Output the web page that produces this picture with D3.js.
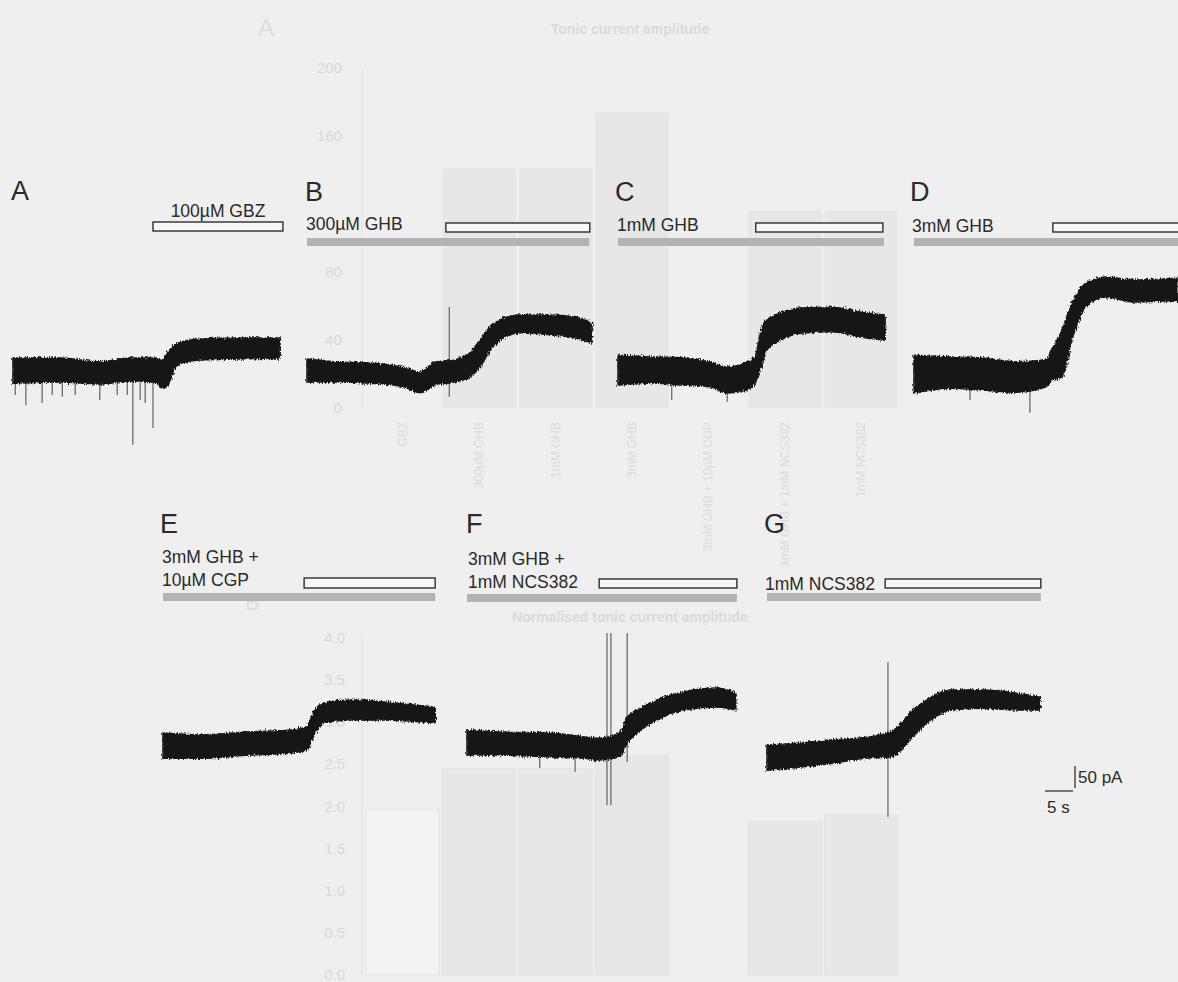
<!DOCTYPE html>
<html>
<head>
<meta charset="utf-8">
<script src="https://cdn.jsdelivr.net/npm/d3@7"></script>
<style>
  html, body { margin: 0; padding: 0; background: #efefef; }
  svg { display: block; font-family: "Liberation Sans", Arial, sans-serif; }
</style>
</head>
<body>
<div id="chart"></div>
<script>
// ---- TRACE DATA (time in s, current in pA relative to baseline) ----
const timeA = [0, 8.4, 15.5, 20.9, 25.4, 26.8, 27.7, 28.9, 30.7, 33.4, 40.5, 47.7];
const upperA = [27, 27, 18, 27, 27, 23, 41, 57, 66, 70, 73, 73];
const lowerA = [-30, -27, -32, -25, -27, -41, -34, 5, 18, 23, 25, 27];
const spikeTimeA = [0.4, 2.3, 5.2, 7.0, 8.8, 11.1, 15.5, 18.6, 20.4, 21.4, 22.7, 23.6, 25.0];
const spikeMinA = [-57, -80, -75, -57, -61, -57, -68, -57, -57, -170, -68, -75, -132];

const timeB = [0, 5.9, 11.3, 17.5, 20.2, 22.9, 26.4, 29.1, 30.9, 32.7, 34.5, 38.0, 43.4, 47.9, 50.9];
const upperB = [25, 18, 16, 5, -5, 18, 23, 39, 68, 98, 114, 125, 125, 120, 107];
const lowerB = [-27, -27, -30, -39, -52, -34, -27, -16, 7, 45, 68, 84, 80, 73, 61];
const spikeTimeB = [25.4];
const spikeMinB = [-61];
const spikeMaxB = [143];

const timeC = [0, 5.7, 11.6, 16.4, 19.5, 23.0, 24.5, 25.4, 26.6, 29.0, 32.5, 38.4, 43.2, 47.7];
const upperC = [36, 32, 30, 20, 9, 20, 32, 86, 116, 132, 143, 145, 134, 127];
const lowerC = [-32, -27, -32, -36, -50, -43, -27, 2, 48, 70, 86, 89, 77, 70];
const spikeTimeC = [9.6, 19.5];
const spikeMinC = [-66, -70];

const timeD = [0, 6.3, 12.1, 18.2, 23.6, 24.6, 26.4, 28.2, 30.7, 34.3, 39.1, 47.1];
const upperD = [45, 41, 39, 30, 34, 57, 102, 164, 209, 223, 216, 220];
const lowerD = [-41, -30, -34, -39, -27, -11, -5, 80, 155, 177, 166, 170];
const spikeTimeD = [10.0, 20.7];
const spikeMinD = [-57, -86];

const timeE = [0, 6.6, 15.5, 22.7, 25.7, 26.8, 28.6, 33.4, 39.3, 48.6];
const upperE = [27, 23, 30, 34, 41, 73, 95, 102, 98, 86];
const lowerE = [-30, -30, -23, -18, -11, 18, 50, 57, 57, 50];

const timeF = [0, 5.9, 14.8, 20.7, 23.2, 27.3, 28.6, 30.4, 33.9, 38.6, 44.6, 48.0];
const upperF = [30, 25, 23, 14, 11, 23, 59, 75, 98, 116, 125, 114];
const lowerF = [-27, -27, -32, -34, -39, -32, 0, 23, 52, 75, 82, 75];
const spikeTimeF = [13.0, 19.3, 25.0, 25.7, 28.6];
const spikeMinF = [-57, -66, -141, -141, -43];
const spikeMaxF = [-20, -20, 250, 250, 250];

const timeG = [0, 5.9, 11.8, 17.9, 22.0, 23.4, 25.5, 28.6, 32.7, 38.6, 44.6, 48.8];
const upperG = [27, 32, 39, 45, 57, 68, 100, 130, 152, 152, 145, 136];
const lowerG = [-30, -23, -14, -2, 0, 9, 39, 77, 107, 111, 107, 107];
const spikeTimeG = [21.6];
const spikeMinG = [-136];
const spikeMaxG = [216];

// drug application windows (s)
const drugOn = [25.0, 24.8, 24.6, 24.8, 25.2, 23.6, 21.1];
const drugOff = [48.2, 50.5, 47.3, 60, 48.6, 48.2, 48.9];
const bathEnd = [null, 50.4, 47.5, 60, 48.6, 48.2, 48.9];

// ---- GHOST (bleed-through) DATA ----
const ghostCats = ["GBZ", "300µM GHB", "1mM GHB", "3mM GHB", "3mM GHB + 10µM CGP", "3mM GHB + 1mM NCS382", "1mM NCS382"];
const ghostTop = [0, 141, 141, 174, 0, 116, 116];
const ghostBottom = [1.96, 2.45, 2.45, 2.6, 0, 1.82, 1.9];
const ghostTopTicks = [0, 40, 80, 160, 200];
const ghostBottomTicks = [0, 0.5, 1.0, 1.5, 2.0, 2.5, 3.0, 3.5, 4.0];

var W = 1178, H = 982;

var svg = d3.select("#chart")
  .append("svg")
  .attr("width", W)
  .attr("height", H);

svg.append("rect").attr("width", W).attr("height", H).attr("fill", "#efefef");

// noisy edge filter for the recordings
var defs = svg.append("defs");
var filt = defs.append("filter").attr("id", "noise")
  .attr("x", "-5%").attr("y", "-30%").attr("width", "110%").attr("height", "160%");
filt.append("feTurbulence")
  .attr("type", "fractalNoise")
  .attr("baseFrequency", "0.9 0.35")
  .attr("numOctaves", 2)
  .attr("seed", 3)
  .attr("result", "turb");
filt.append("feDisplacementMap")
  .attr("in", "SourceGraphic")
  .attr("in2", "turb")
  .attr("scale", 5)
  .attr("xChannelSelector", "R")
  .attr("yChannelSelector", "G");

// ---- GHOST LAYER ----
var ghost = svg.append("g").attr("class", "ghost");
var gx = d3.scaleBand().domain(ghostCats).range([366, 898]).paddingInner(0.04);
var gyTop = d3.scaleLinear().domain([0, 200]).range([408, 68]);
var gyBot = d3.scaleLinear().domain([0, 4]).range([975, 638]);

ghost.append("text").attr("x", 630).attr("y", 34).attr("text-anchor", "middle")
  .attr("font-size", 14).attr("font-weight", "bold").attr("fill", "#dadada")
  .text("Tonic current amplitude");
ghost.append("text").attr("x", 258).attr("y", 36).attr("font-size", 24).attr("fill", "#dedede").text("A");
ghost.append("text").attr("x", 630).attr("y", 622).attr("text-anchor", "middle")
  .attr("font-size", 14).attr("font-weight", "bold").attr("fill", "#dadada")
  .text("Normalised tonic current amplitude");
ghost.append("text").attr("x", 245).attr("y", 610).attr("font-size", 22).attr("fill", "#dedede").text("B");

ghost.selectAll(".gbt")
  .data(ghostCats.filter((d, i) => ghostTop[i] > 0))
  .enter()
  .append("rect")
  .attr("x", (d) => gx(d))
  .attr("width", gx.bandwidth())
  .attr("y", (d) => gyTop(ghostTop[ghostCats.indexOf(d)]))
  .attr("height", (d) => gyTop(0) - gyTop(ghostTop[ghostCats.indexOf(d)]))
  .attr("fill", "#e7e7e7");

ghost.selectAll(".gbb")
  .data(ghostCats.filter((d, i) => ghostBottom[i] > 0))
  .enter()
  .append("rect")
  .attr("x", (d) => gx(d))
  .attr("width", gx.bandwidth())
  .attr("y", (d) => gyBot(ghostBottom[ghostCats.indexOf(d)]))
  .attr("height", (d) => gyBot(0) - gyBot(ghostBottom[ghostCats.indexOf(d)]))
  .attr("fill", (d, i) => (i === 0 ? "#f3f3f3" : "#e7e7e7"))
  .attr("stroke", "#e3e3e3");

ghost.append("line").attr("x1", 362).attr("x2", 362).attr("y1", gyTop(200)).attr("y2", gyTop(0)).attr("stroke", "#e2e2e2");
ghost.append("line").attr("x1", 362).attr("x2", 362).attr("y1", gyBot(4)).attr("y2", gyBot(0)).attr("stroke", "#e2e2e2");

ghost.selectAll(".gtt").data(ghostTopTicks).enter().append("text")
  .attr("x", 342).attr("y", (d) => gyTop(d) + 5).attr("text-anchor", "end")
  .attr("font-size", 15).attr("fill", "#d9d9d9").text((d) => d);
ghost.selectAll(".gbk").data(ghostBottomTicks).enter().append("text")
  .attr("x", 345).attr("y", (d) => gyBot(d) + 5).attr("text-anchor", "end")
  .attr("font-size", 15).attr("fill", "#d9d9d9").text((d) => d.toFixed(1));

ghost.selectAll(".gcl").data(ghostCats).enter().append("text")
  .attr("transform", (d) => `translate(${gx(d) + gx.bandwidth() / 2 + 4}, 422) rotate(-90)`)
  .attr("text-anchor", "end")
  .attr("font-size", 12).attr("fill", "#dcdcdc").text((d) => d);

// ---- SCALES (5 s = 28 px, 50 pA = 22 px) ----
var x = d3.scaleLinear().domain([0, 5]).range([0, 28]);
var y = d3.scaleLinear().domain([0, 50]).range([0, -22]);

var area = d3.area()
  .curve(d3.curveMonotoneX)
  .x((d) => x(d.t))
  .y0((d) => y(d.lo))
  .y1((d) => y(d.hi));

var panels = [
  { key: "A", t: timeA, hi: upperA, lo: lowerA, st: spikeTimeA, smin: spikeMinA, ox: 13, oy: 370,
    lx: 11, ly: 200, text: ["100µM GBZ"], tx: 218, ty: 217, anchor: "middle", ry: 222, rh: 9, gy: null },
  { key: "B", t: timeB, hi: upperB, lo: lowerB, st: spikeTimeB, smin: spikeMinB, smax: spikeMaxB, ox: 307, oy: 370,
    lx: 305, ly: 201, text: ["300µM GHB"], tx: 306, ty: 230, anchor: "start", ry: 223, rh: 9, gy: 238 },
  { key: "C", t: timeC, hi: upperC, lo: lowerC, st: spikeTimeC, smin: spikeMinC, ox: 618, oy: 371,
    lx: 615, ly: 201, text: ["1mM GHB"], tx: 617, ty: 231, anchor: "start", ry: 223, rh: 9, gy: 238 },
  { key: "D", t: timeD, hi: upperD, lo: lowerD, st: spikeTimeD, smin: spikeMinD, ox: 914, oy: 375,
    lx: 910, ly: 201, text: ["3mM GHB"], tx: 912, ty: 232, anchor: "start", ry: 223, rh: 9, gy: 238 },
  { key: "E", t: timeE, hi: upperE, lo: lowerE, st: [], smin: [], ox: 163, oy: 745,
    lx: 160, ly: 533, text: ["3mM GHB +", "10µM CGP"], tx: 162, ty: 563, anchor: "start", ry: 578, rh: 10, gy: 593 },
  { key: "F", t: timeF, hi: upperF, lo: lowerF, st: spikeTimeF, smin: spikeMinF, smax: spikeMaxF, ox: 467, oy: 743,
    lx: 466, ly: 533, text: ["3mM GHB +", "1mM NCS382"], tx: 468, ty: 565, anchor: "start", ry: 579, rh: 9, gy: 594 },
  { key: "G", t: timeG, hi: upperG, lo: lowerG, st: spikeTimeG, smin: spikeMinG, smax: spikeMaxG, ox: 767, oy: 757,
    lx: 764, ly: 533, text: ["1mM NCS382"], tx: 765, ty: 590, anchor: "start", ry: 579, rh: 9, gy: 593 },
];

panels.forEach(function (p, i) {
  // LETTER
  svg.append("text")
    .attr("x", p.lx).attr("y", p.ly)
    .attr("font-size", 27).attr("fill", "#2a2a2a")
    .text(p.key);

  // DRUG LABEL
  var lab = svg.append("text")
    .attr("x", p.tx).attr("y", p.ty)
    .attr("font-size", 17.5).attr("fill", "#2a2a2a")
    .attr("text-anchor", p.anchor);
  p.text.forEach(function (s, j) {
    lab.append("tspan").attr("x", p.tx).attr("dy", j === 0 ? 0 : 23).text(s);
  });

  var g = svg.append("g").attr("transform", `translate(${p.ox}, 0)`);

  // BATH (grey) BAR
  if (bathEnd[i] !== null) {
    g.append("rect")
      .attr("x", x(0)).attr("y", p.gy)
      .attr("width", x(bathEnd[i]) - x(0)).attr("height", 8)
      .attr("fill", "#b3b3b3");
  }

  // DRUG (open) BAR
  g.append("rect")
    .attr("x", x(drugOn[i])).attr("y", p.ry)
    .attr("width", x(drugOff[i]) - x(drugOn[i])).attr("height", p.rh)
    .attr("fill", "#f7f7f7")
    .attr("stroke", "#2e2e2e")
    .attr("stroke-width", 1.4);

  var tr = svg.append("g").attr("transform", `translate(${p.ox}, ${p.oy})`);

  // SPIKES
  tr.selectAll(".spike")
    .data(p.st)
    .enter()
    .append("line")
    .attr("x1", (d) => x(d)).attr("x2", (d) => x(d))
    .attr("y1", (d, j) => y(p.smax ? p.smax[j] : -20))
    .attr("y2", (d, j) => y(p.smin[j]))
    .attr("stroke", "#555")
    .attr("stroke-width", 1.1);

  // TRACE
  var pts = p.t.map((t, j) => ({ t: t, hi: p.hi[j], lo: p.lo[j] }));
  tr.append("path")
    .attr("d", area(pts))
    .attr("fill", "#161616")
    .attr("stroke", "#161616")
    .attr("stroke-width", 1.5)
    .attr("filter", "url(#noise)");
});

// ---- SCALE BAR ----
var sb = svg.append("g").attr("transform", "translate(1045, 791)");
sb.append("line").attr("x1", 0).attr("x2", x(5)).attr("y1", 0).attr("y2", 0)
  .attr("stroke", "#333").attr("stroke-width", 1.3);
sb.append("line").attr("x1", x(5) + 2).attr("x2", x(5) + 2).attr("y1", -3).attr("y2", y(50) - 3)
  .attr("stroke", "#333").attr("stroke-width", 1.3);
sb.append("text").attr("x", x(5) + 5).attr("y", -8).attr("font-size", 17).attr("fill", "#2a2a2a").text("50 pA");
sb.append("text").attr("x", 2).attr("y", 22).attr("font-size", 17).attr("fill", "#2a2a2a").text("5 s");
</script>
</body>
</html>
